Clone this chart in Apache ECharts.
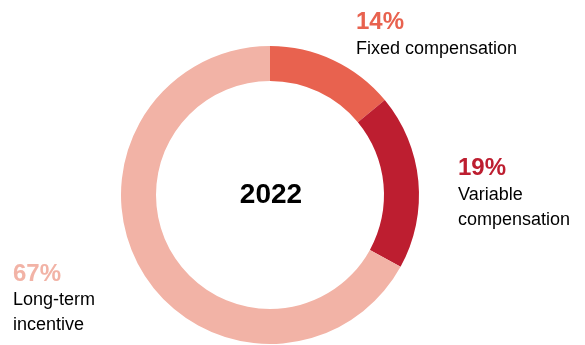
<!DOCTYPE html>
<html>
<head>
<meta charset="utf-8">
<script src="https://cdn.jsdelivr.net/npm/echarts@6/dist/echarts.min.js"></script>
<style>html,body{margin:0;padding:0;background:#fff;}#chart{width:585px;height:345px;}</style>
</head>
<body>
<div id="chart"></div>
<script>
const categories = ['Fixed compensation', 'Variable\ncompensation', 'Long-term\nincentive'];
const values = [14, 19, 67];
const colors = ['#E8624F', '#BD1E30', '#F2B3A6'];
const centerLabel = '2022';

const labelPos = [
  {x: 356, y: 8.6},
  {x: 458, y: 154.3},
  {x: 13, y: 259.9}
];

const chart = echarts.init(document.getElementById('chart'), null, {renderer: 'canvas'});
chart.setOption({
  animation: false,
  graphic: [{
    type: 'text', x: 271, y: 195,
    style: {text: centerLabel, font: 'bold 28px "Liberation Sans", Arial, sans-serif', fill: '#000', textAlign: 'center', textVerticalAlign: 'middle'}
  }],
  series: [{
    type: 'pie',
    center: [270, 195],
    radius: [114, 149],
    startAngle: 90,
    clockwise: true,
    silent: true,
    data: categories.map((c, i) => ({
      name: c, value: values[i],
      itemStyle: {color: colors[i]},
      label: {rich: {pct: {color: colors[i]}}}
    })),
    label: {
      show: true,
      overflow: 'none',
      width: 200,
      formatter: p => '{pct|' + p.value + '%}\n{name|' + p.name + '}',
      fontFamily: '"Liberation Sans", Arial, sans-serif',
      rich: {
        pct: {fontSize: 24, fontWeight: 'bold', lineHeight: 28, fontFamily: '"Liberation Sans", Arial, sans-serif'},
        name: {fontSize: 18, lineHeight: 25, color: '#000', fontFamily: '"Liberation Sans", Arial, sans-serif'}
      }
    },
    labelLine: {show: false},
    labelLayout: function (params) {
      const p = labelPos[params.dataIndex];
      return {x: p.x, y: p.y, align: 'left', verticalAlign: 'top', hideOverlap: false, moveOverlap: false};
    }
  }]
});
</script>
</body>
</html>
